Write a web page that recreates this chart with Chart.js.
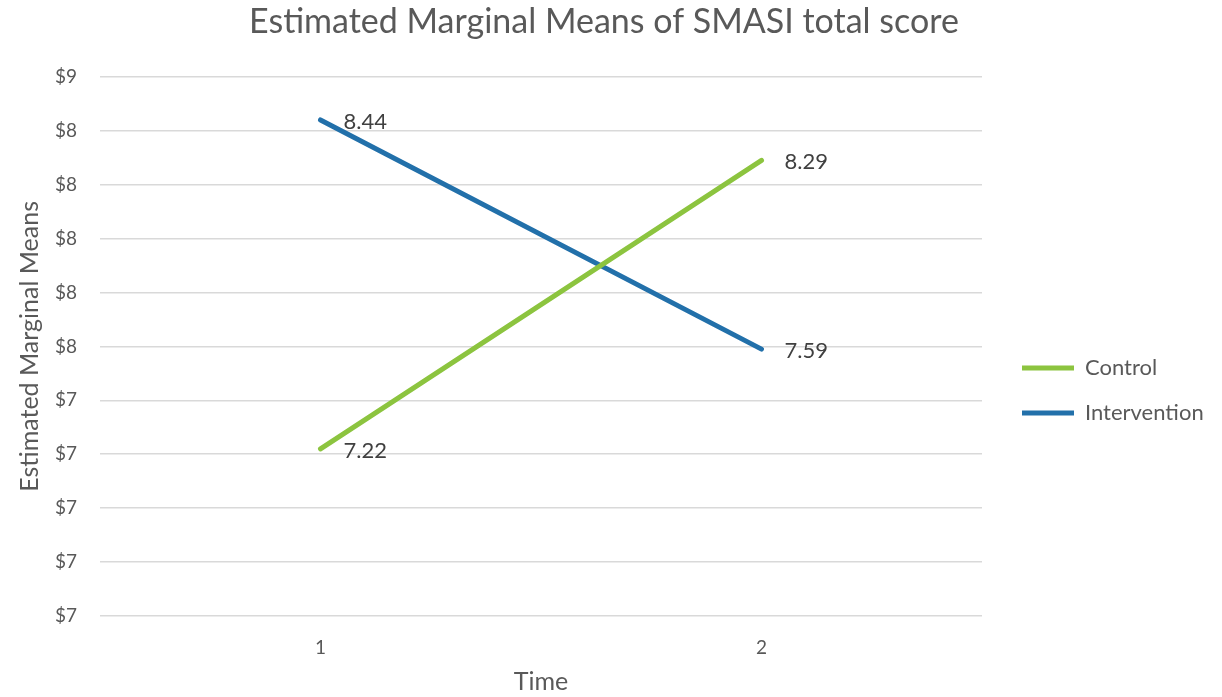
<!DOCTYPE html>
<html>
<head>
<meta charset="utf-8">
<script src="https://cdn.jsdelivr.net/npm/chart.js@4"></script>
<style>
  html, body { margin:0; padding:0; background:#fff; }
  #wrap { width:1222px; height:697px; position:relative; }
</style>
</head>
<body>
<div id="wrap"><canvas id="chart" width="1222" height="697"></canvas></div>
<script>
// datos
const tiempos = ['1', '2'];
const control = [7.22, 8.29];
const intervencion = [8.44, 7.59];
const yMin = 6.6, yMax = 8.6, yPaso = 0.2;

const gris = '#595959';
const fuente = "Lato, 'Open Sans', sans-serif";

// etiquetas de valor a la derecha de cada punto
const etiquetas = {
    id: 'etiquetas',
    afterDatasetsDraw(chart){
        const ctx = chart.ctx;
        ctx.save();
        ctx.font = '22px ' + fuente;
        ctx.fillStyle = '#404040';
        ctx.textBaseline = 'middle';
        ctx.textAlign = 'left';
        chart.data.datasets.forEach((ds,i)=>{
            chart.getDatasetMeta(i).data.forEach((p,j)=>{
                ctx.fillText(ds.data[j].toFixed(2), p.x + 23, p.y + 2);
            });
        });
        ctx.restore();
    }
};

// leyenda: ancho fijo y algo desplazada
const leyendaFija = {
    id: 'leyendaFija',
    beforeLayout(chart){
        const lg = chart.legend;
        if(lg && !lg._envuelta){
            const fitOrig = lg.fit.bind(lg);
            lg.fit = function(){ fitOrig(); this.width = 211; };
            lg._envuelta = true;
        }
    },
    afterLayout(chart){
        const lg = chart.legend;
        lg.left += 17; lg.right += 17;
        lg.top += 42; lg.bottom += 42;
    }
};

const ctx = document.getElementById('chart').getContext('2d');
const myChart = new Chart(ctx, {
    type:'line',
    data:{
        labels: tiempos,
        datasets:[
            { label:'Control', data:control, borderColor:'#8CC43F', backgroundColor:'#8CC43F', borderWidth:5, pointRadius:0, borderCapStyle:'round' },
            { label:'Intervention', data:intervencion, borderColor:'#2270AA', backgroundColor:'#2270AA', borderWidth:5, pointRadius:0, borderCapStyle:'round' }
        ]
    },
    options:{
        responsive:false,
        animation:false,
        layout:{ padding:{ left:15, right:29, top:0, bottom:0 } },
        plugins:{
            title:{ display:true, text:'Estimated Marginal Means of SMASI total score', color:gris,
                font:{ family:fuente, size:34, weight:'normal' }, padding:{ top:2, bottom:34 } },
            legend:{ position:'right',
                labels:{ usePointStyle:true, pointStyle:'line', pointStyleWidth:52, boxHeight:5, padding:23, color:gris,
                    font:{ family:fuente, size:22 } } },
            tooltip:{ enabled:false }
        },
        scales:{
            x:{ offset:true,
                afterFit(s){ s.height = 81; },
                grid:{ display:false, drawTicks:false },
                border:{ display:false },
                ticks:{ color:gris, font:{ family:fuente, size:19 }, padding:20 },
                title:{ display:true, text:'Time', color:gris, font:{ family:fuente, size:25 }, padding:{ top:-3, bottom:0 } } },
            y:{ min:yMin, max:yMax,
                afterFit(s){ s.width = 85; },
                grid:{ color:'#D9D9D9', lineWidth:1.5, drawTicks:false },
                border:{ display:false },
                ticks:{ stepSize:yPaso, color:gris, font:{ family:fuente, size:19 }, padding:23,
                    callback:v=>'$' + Math.round(v) },
                title:{ display:true, text:'Estimated Marginal Means', color:gris, font:{ family:fuente, size:25 }, padding:{ top:0, bottom:0 } } }
        }
    },
    plugins:[etiquetas, leyendaFija]
});
</script>
</body>
</html>
